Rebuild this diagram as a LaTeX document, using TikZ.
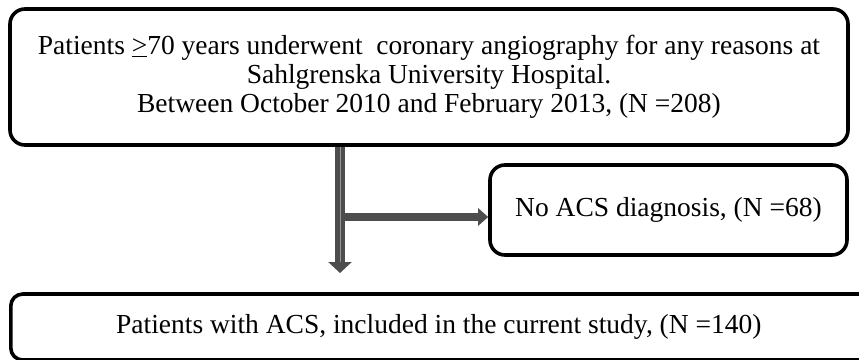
\documentclass[tikz,border=0pt]{standalone}
\usepackage{fontspec}
\setmainfont{Liberation Serif}
\usetikzlibrary{arrows.meta,positioning}
\definecolor{arrowgray}{RGB}{77,77,77}
\definecolor{stripegray}{RGB}{150,150,150}

\begin{document}
\begin{tikzpicture}[x=1pt, y=-1pt,
		box/.style={draw, line width=3.6pt, rounded corners=15pt, align=center,
			inner sep=0pt, font=\fontsize{27.5}{29}\selectfont},
		stem/.style={arrowgray, line width=10pt, -{Triangle[width=23pt, length=11pt]}},
		stripe/.style={stripegray, line width=1pt},
		branch/.style={arrowgray, line width=8pt, -{Triangle[width=17pt, length=10pt]}}]
		% 0. Page size (same proportions as the reference)
		\useasboundingbox (0,0) rectangle (859,359);

		% 1. The three boxes
		\node[box, minimum width=838pt, minimum height=136pt] (screened) at (429,77)
			{Patients \underline{>}70 years underwent~ coronary angiography for any reasons at\\
			 Sahlgrenska University Hospital.\\
			 Between October 2010 and February 2013, (N =208)};
		\node[box, minimum width=357pt, minimum height=90pt] (noacs) at (668.5,210)
			{No ACS diagnosis, (N =68)};
		% bottom box runs off the page on the right and at the bottom
		\node[box, rounded corners=12pt, minimum height=66pt, anchor=west] (acs) at (9,327)
			{\makebox[856pt]{Patients with ACS, included in the current study, (N =140)}\hspace*{40pt}};

		% 2. Split point and free end of the main arrow
		\coordinate (split) at (340,217);
		\coordinate (tip) at (340,273);

		% 3. Arrows
		\draw[stem] (screened.south -| split) -- (tip);
		\draw[stripe] (screened.south -| split) -- ([yshift=11pt]tip);
		\draw[branch] ([xshift=5pt]split) -- (split -| noacs.west);
	\end{tikzpicture}
\end{document}
